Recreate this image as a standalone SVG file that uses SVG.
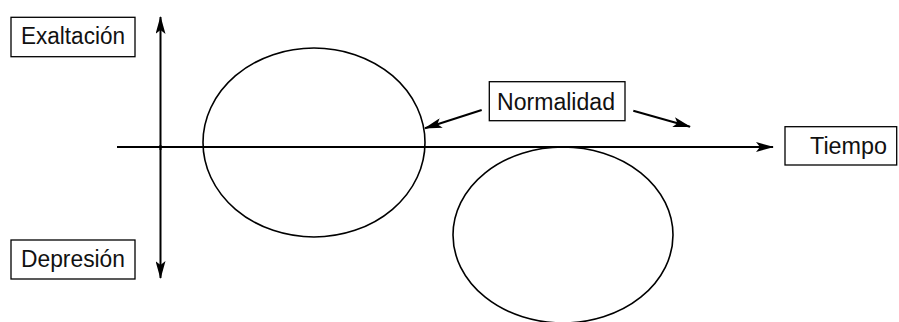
<svg xmlns="http://www.w3.org/2000/svg" width="899" height="322" viewBox="0 0 899 322">
  <style>
    .box { fill: #fff; stroke: #000; stroke-width: 1.3; }
    .lbl { font-family: "Liberation Sans", Arial, sans-serif; font-size: 23px; fill: #111; text-anchor: middle; }
    .line { stroke: #000; stroke-width: 2; fill: none; }
    .ell { stroke: #000; stroke-width: 1.6; fill: none; }
  </style>
  <defs>
    <marker id="arrow" markerWidth="18" markerHeight="10" refX="17" refY="5" orient="auto" markerUnits="userSpaceOnUse">
      <path d="M0,0 L18,5 L0,10 L4,5 Z" fill="#000"/>
    </marker>
  </defs>

  <!-- cycles -->
  <g id="upper-cycle"><ellipse class="ell" cx="314" cy="142.5" rx="111" ry="94.5"/></g>
  <g id="lower-cycle"><ellipse class="ell" cx="563" cy="235" rx="110" ry="88"/></g>

  <!-- axes and pointers -->
  <g id="connectors">
    <line class="line" x1="160.5" y1="150" x2="160.5" y2="17" marker-end="url(#arrow)"/>
    <line class="line" x1="160.5" y1="145" x2="160.5" y2="278" marker-end="url(#arrow)"/>
    <line class="line" x1="117" y1="147" x2="773" y2="147" marker-end="url(#arrow)"/>
    <line class="line" x1="481.7" y1="110" x2="425" y2="128.3" marker-end="url(#arrow)"/>
    <line class="line" x1="633.3" y1="110.7" x2="690" y2="126.7" marker-end="url(#arrow)"/>
  </g>

  <g id="exaltacion">
    <rect class="box" x="11" y="17.3" width="124" height="39.4"/>
    <text class="lbl" x="73" y="44" textLength="104" lengthAdjust="spacingAndGlyphs">Exaltación</text>
  </g>
  <g id="depresion">
    <rect class="box" x="11" y="240" width="124" height="39"/>
    <text class="lbl" x="73" y="266.5" textLength="104" lengthAdjust="spacingAndGlyphs">Depresión</text>
  </g>
  <g id="normalidad">
    <rect class="box" x="489.3" y="81.7" width="135.7" height="39"/>
    <text class="lbl" x="556" y="109.5" textLength="118" lengthAdjust="spacingAndGlyphs">Normalidad</text>
  </g>
  <g id="tiempo">
    <rect class="box" x="785" y="126.7" width="111.7" height="38.3"/>
    <text class="lbl" x="848.5" y="153.5" textLength="77" lengthAdjust="spacingAndGlyphs">Tiempo</text>
  </g>
</svg>
